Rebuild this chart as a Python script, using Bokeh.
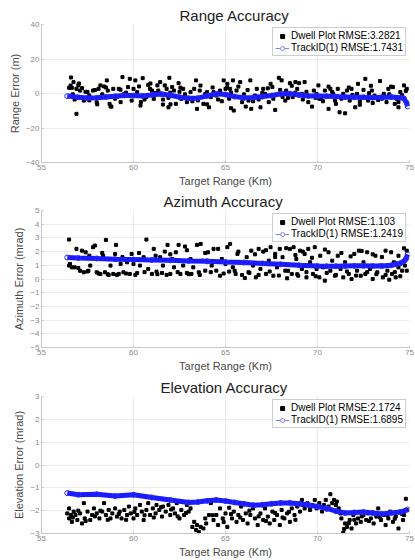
from bokeh.plotting import figure
from bokeh.models import Legend, LegendItem, FixedTicker, Range1d, ColumnDataSource
from bokeh.layouts import column
from bokeh.embed import file_html
from bokeh.resources import INLINE

FONT = "Liberation Sans"
x_ticks = [55, 60, 65, 70, 75]

# ---------------- Range panel ----------------
range_dwell_km = [56.6, 56.5, 56.65, 56.74, 56.9, 56.9, 57.0, 57.1, 57.2, 57.3, 57.5, 57.6, 57.8, 58.0,
                  58.1, 58.2, 58.4, 58.55, 58.6, 58.7, 58.8, 58.9, 59.2, 59.3, 59.4, 59.5, 59.7, 59.8,
                  59.9, 60.0, 60.1, 60.3, 60.4, 60.5, 60.7, 60.9, 61.0, 61.1, 61.3, 61.35, 61.45, 61.6,
                  61.7, 61.8, 61.9, 61.95, 62.1, 62.2, 62.3, 62.45, 62.6, 62.7, 62.9, 63.1, 63.3, 63.4,
                  63.45, 63.6, 63.8, 64.0, 64.1, 64.2, 64.35, 64.5, 64.7, 64.9, 65.0, 65.1, 65.25, 65.3,
                  65.4, 65.6, 65.8, 65.9, 66.1, 66.25, 66.35, 66.4, 66.6, 66.7, 66.9, 67.05, 67.15, 67.35,
                  67.45, 67.55, 67.7, 67.9, 67.97, 68.05, 68.25, 68.3, 68.5, 68.65, 68.8, 68.9, 69.0,
                  69.15, 69.3, 69.5, 69.7, 69.8, 69.95, 70.05, 70.2, 70.4, 70.6, 70.7, 70.85, 70.95,
                  71.1, 71.2, 71.4, 71.5, 71.6, 71.75, 71.85, 72.05, 72.15, 72.2, 72.4, 72.5, 72.6,
                  72.75, 72.95, 73.1, 73.4, 73.6, 73.75, 73.85, 74.0, 74.1, 74.2, 74.4, 74.5, 74.7,
                  74.75, 74.85,
                  56.58, 57.03, 57.39, 58.03, 58.75, 59.29, 60.38, 60.92, 62.01, 62.55, 63.64, 64.0,
                  65.09, 65.45, 56.8, 57.6, 58.3, 59.0, 59.6, 60.6, 61.2, 61.9, 62.8, 63.2, 63.9, 64.6,
                  65.3, 66.0, 66.5, 67.0, 67.6, 68.4, 69.2, 69.9, 70.3, 70.8, 71.3, 71.9, 72.3, 72.8,
                  73.3, 73.9, 74.3, 74.6, 57.9, 60.2, 62.0, 64.8, 68.8, 73.0,
                  56.7, 57.4, 58.5, 59.1, 60.8, 61.6, 62.5, 63.5, 64.3, 65.2, 65.7, 66.2, 66.8, 67.3,
                  68.1, 68.6, 69.4, 70.1, 70.6, 71.0, 71.7, 72.3, 72.9, 73.5, 74.0, 74.4, 74.8]
range_dwell_err = [9.3, 3.3, 3.3, 6.6, 2.7, -11.8, 4.7, 1.7, 3.1, -4.1, 0.8, -1.2, 1.7, -5.0,
                   2.7, 4.7, 4.1, 7.6, 1.7, -6.0, -7.6, 2.7, 2.7, -5.0, 9.5, -0.2, 3.7, 8.5,
                   -4.1, 2.7, 7.6, 4.1, -5.0, 8.9, -2.1, 2.7, 1.7, -3.1, 4.7, 1.7, 6.6, -6.4,
                   4.7, 2.7, -8.0, 9.1, 3.7, 1.7, -6.0, 6.0, -3.1, 2.7, -5.0, 0.8, 2.7, 7.6,
                   -8.9, 1.7, -6.0, 0.8, -8.0, -2.1, 0.8, -1.2, 1.7, 7.6, 2.7, 5.6, 2.7, -8.5,
                   7.6, 1.7, 6.6, -5.0, -7.6, -4.1, 7.6, -8.9, -1.2, 2.7, -8.0, 2.7, -0.2, -5.0,
                   5.6, 3.7, -9.5, 9.1, 2.1, 7.6, -4.1, 1.7, 6.0, -2.1, 6.6, 2.7, 6.0,
                   -0.2, 6.6, -5.0, -7.6, 1.7, -0.2, 4.7, -3.1, 1.7, -8.9, 2.7, -0.2, -4.1,
                   2.7, -10.9, -0.2, -11.5, 1.7, -4.1, 2.7, -8.0, -0.2, 5.6, -2.1, 2.1, 8.5,
                   -4.1, 1.7, -1.2, 7.2, -0.2, -5.0, 2.7, -2.1, 3.7, -6.0, -8.0, 0.8, 4.7,
                   -4.1, 2.7,
                   4.6, 5.8, 1.0, -6.3, -7.5, 2.2, -7.0, 5.8, -6.3, 3.4, 4.6, -6.3,
                   3.4, -9.9, -3.5, -4.0, -0.5, -3.0, 0.5, -3.5, 0.3, -2.5, -0.5, -4.5, -0.3, -3.5,
                   0.5, -0.5, -4.5, 0.3, -3.0, -2.5, -3.5, -2.5, -4.5, 0.8, -3.0, -0.8, -4.5, 0.2,
                   -3.8, -0.5, -3.0, -1.0, 2.0, 0.8, 0.5, -4.5, 0.5, -5.5,
                   -0.5, -2.5, 3.5, -2.0, 5.0, -3.5, 1.0, -4.0, 3.5, -3.0, 4.0, 2.0, -3.5, 3.0,
                   -2.0, 4.5, 1.0, -3.0, 4.0, -6.0, 3.5, -6.5, 4.5, -3.0, 4.0, -5.0, 1.5]
range_track_km = [56.4, 57.0, 57.5, 58.0, 58.5, 59.0, 59.5, 60.0, 60.5, 61.0, 61.5, 62.0, 62.5, 63.0,
                  63.5, 64.0, 64.5, 65.0, 65.5, 66.0, 66.5, 67.0, 67.5, 68.0, 68.5, 69.0, 69.5, 70.0,
                  70.5, 71.0, 71.5, 72.0, 72.5, 73.0, 73.5, 74.0, 74.5, 74.7, 74.85, 74.9]
range_track_err = [-1.5, -2.2, -2.6, -2.5, -2.0, -1.6, -1.1, -1.2, -1.4, -0.8, -0.3, -1.0, -2.1, -2.8,
                   -2.7, -1.4, -0.2, -0.6, -1.8, -2.5, -2.3, -1.8, -1.2, -0.2, -0.1, -0.9, -1.4, -1.4,
                   -1.6, -1.8, -2.1, -2.2, -2.2, -2.4, -2.2, -2.0, -2.4, -2.9, -5.5, -7.5]
range_ticks = [-40, -20, 0, 20, 40]

# ---------------- Azimuth panel ----------------
az_dwell_km = [56.5, 56.5, 56.55, 56.65, 56.8, 56.9, 57.1, 57.2, 57.3, 57.4, 57.55, 57.65, 57.8, 57.9,
               58.0, 58.2, 58.35, 58.45, 58.5, 58.65, 58.75, 58.9, 59.0, 59.05, 59.2, 59.3, 59.45,
               59.65, 59.8, 59.9, 60.0, 60.2, 60.35, 60.55, 60.7, 60.8, 61.0, 61.1, 61.25, 61.45,
               61.55, 61.6, 61.7, 61.85, 62.0, 62.1, 62.2, 62.3, 62.45, 62.55, 62.7, 62.8, 62.9,
               63.1, 63.15, 63.25, 63.45, 63.55, 63.65, 63.75, 63.9, 64.05, 64.25, 64.35, 64.5,
               64.7, 64.8, 65.0, 65.1, 65.2, 65.25, 65.4, 65.55, 65.65, 65.8, 65.9, 66.05, 66.15,
               66.25, 66.4, 66.5, 66.65, 66.8, 66.9, 67.05, 67.2, 67.35, 67.45, 67.6, 67.7, 67.8,
               67.95, 68.1, 68.25, 68.35, 68.5, 68.6, 68.7, 68.85, 68.95, 69.05, 69.15, 69.3, 69.4,
               69.5, 69.6, 69.75, 69.85, 69.95, 70.1, 70.15, 70.3, 70.4, 70.6, 70.7, 70.8, 70.95,
               71.1, 71.25, 71.4, 71.5, 71.7, 71.85, 72.0, 72.15, 72.25, 72.35, 72.5, 72.6, 72.7,
               72.85, 73.0, 73.15, 73.25, 73.4, 73.55, 73.7, 73.8, 73.9, 74.05, 74.15, 74.25, 74.4,
               74.6, 74.7, 74.75, 74.85, 74.85,
               66.3, 66.8, 67.4, 67.9, 68.4, 68.9, 69.4, 69.9, 70.5, 71.0, 71.6, 72.1, 72.7, 73.2,
               73.7, 74.2, 74.5, 66.6, 67.2, 67.7, 68.3, 68.8, 69.2, 69.7, 70.4, 71.3, 71.8, 72.4,
               73.0, 73.5, 74.0, 74.4,
               57.0, 57.5, 58.1, 58.6, 59.1, 59.6, 60.1, 60.6, 61.3, 61.8, 62.4, 63.0, 63.6, 64.2,
               64.9, 65.5, 57.6, 58.3, 59.4, 60.3, 61.2, 62.0, 62.9, 63.9, 64.6, 65.7]
az_dwell_err = [2.88, 0.98, 1.1, 0.85, 0.85, 2.2, 0.6, 2.07, 0.49, 1.95, 0.6, 0.98, 2.32, 2.44,
                0.49, 0.37, 1.7, 0.49, 2.85, 0.29, 0.98, 0.37, 1.83, 2.49, 0.37, 1.1, 0.49,
                1.22, 0.37, 1.83, 1.1, 0.44, 0.98, 1.59, 2.88, 0.73, 0.37, 2.2, 0.54, 1.59,
                0.44, 0.98, 2.0, 2.49, 0.37, 1.46, 0.85, 1.95, 2.49, 0.37, 0.98, 2.37, 0.44,
                1.46, 0.37, 0.85, 2.49, 0.49, 2.56, 1.34, 0.61, 1.95, 0.98, 2.2, 0.61,
                0.24, 1.46, 1.1, 2.32, 0.54, 2.56, 0.85, 0.37, 1.83, 1.22, 0.29, 0.07, 1.59,
                0.49, 2.07, 0.98, 0.12, 2.2, 0.73, 2.0, 0.37, 1.34, 2.32, 0.24, 1.83, 0.85,
                2.2, 1.59, 0.61, 0.05, 2.2, 0.37, 2.32, 1.46, 0.24, 2.07, 0.73, 1.83, 0.12,
                2.2, 1.22, 0.37, 2.32, 0.73, 0.12, 1.7, 0.85, -0.12, 1.95, 0.61, 1.34, 0.24,
                1.7, 0.73, 0.12, 1.22, 0.37, 0.0, 1.83, 0.61, 2.07, 0.24, 1.22, 0.37, 1.95,
                0.73, 0.0, 1.7, 0.49, 0.98, 0.12, 2.07, 0.61, -0.05, 0.37, 1.22, 0.12, 0.85,
                0.61, 2.24, 0.98, 2.07, 0.61,
                0.45, 0.3, 0.55, 0.25, 0.6, 0.35, 0.5, 0.2, 0.45, 0.3, 0.55, 0.25, 0.5, 0.35,
                0.3, 0.5, 0.2, 1.8, 2.1, 1.6, 2.25, 1.75, 2.0, 1.55, 2.15, 1.9, 1.65, 2.05,
                1.8, 1.6, 1.95, 1.7,
                0.8, 0.55, 0.4, 0.35, 0.3, 0.4, 0.3, 0.5, 0.35, 0.3, 0.5, 0.35, 0.3, 0.5,
                0.4, 0.6, 1.7, 1.9, 1.6, 1.9, 1.7, 1.8, 2.1, 1.9, 2.2, 2.0]
az_track_km = [56.4, 57.0, 58.0, 59.0, 60.0, 61.0, 62.0, 63.0, 64.0, 65.0, 66.0, 67.0, 68.0, 69.0,
               70.0, 70.5, 71.0, 71.5, 72.0, 72.5, 73.0, 73.5, 74.0, 74.3, 74.5, 74.7, 74.8, 74.9]
az_track_err = [1.57, 1.53, 1.5, 1.45, 1.42, 1.39, 1.36, 1.32, 1.29, 1.24, 1.2, 1.14, 1.07, 1.0,
                0.95, 0.93, 0.93, 0.95, 0.96, 0.96, 0.95, 0.95, 1.0, 1.08, 1.15, 1.3, 1.45, 1.8]
az_ticks = [-5, -4, -3, -2, -1, 0, 1, 2, 3, 4, 5]

# ---------------- Elevation panel ----------------
el_dwell_km = [56.4, 56.5, 56.5, 56.6, 56.65, 56.75, 56.85, 56.95, 57.1, 57.2, 57.3, 57.35, 57.5, 57.65,
               57.75, 57.85, 58.0, 58.15, 58.3, 58.4, 58.5, 58.65, 58.75, 58.85, 59.0, 59.1, 59.25,
               59.35, 59.5, 59.65, 59.75, 59.85, 60.0, 60.1, 60.2, 60.35, 60.45, 60.55, 60.7, 60.8,
               60.9, 61.05, 61.2, 61.25, 61.4, 61.55, 61.6, 61.75, 61.9, 62.0, 62.15, 62.25, 62.35,
               62.5, 62.6, 62.75, 62.9, 63.0, 63.1, 63.2, 63.3, 63.4, 63.45, 63.55, 63.65, 63.8,
               63.9, 63.95, 64.1, 64.2, 64.35, 64.5, 64.6, 64.7, 64.85, 65.0, 65.1, 65.2, 65.35,
               65.45, 65.6, 65.7, 65.85, 65.95, 66.1, 66.2, 66.35, 66.5, 66.6, 66.75, 66.9, 67.05,
               67.15, 67.3, 67.4, 67.55, 67.65, 67.8, 67.95, 68.05, 68.2, 68.35, 68.5, 68.6, 68.75,
               68.9, 69.05, 69.15, 69.3, 69.45, 69.6, 69.7, 69.85, 69.95, 70.1, 70.25, 70.35, 70.45,
               70.6, 70.7, 70.8, 70.9, 71.0, 71.15, 71.25, 71.3, 71.4, 71.5, 71.6, 71.75, 71.85,
               71.95, 72.1, 72.2, 72.35, 72.5, 72.65, 72.75, 72.9, 73.05, 73.2, 73.3, 73.45, 73.6,
               73.7, 73.85, 73.95, 74.1, 74.25, 74.4, 74.5, 74.65, 74.7, 74.8, 74.85,
               56.7, 57.0, 57.4, 57.9, 58.2, 58.6, 59.2, 59.6, 60.05, 60.6, 61.1, 61.5, 62.05, 62.4,
               62.85, 64.3, 64.9, 65.3, 65.8, 66.3, 66.8, 67.2, 67.7, 68.1, 68.45, 68.8, 69.2, 69.6,
               70.0, 70.5, 71.05, 71.45, 71.7, 72.0, 72.4, 72.8, 73.4, 73.8, 74.2, 74.6]
el_dwell_err = [-2.12, -1.9, -2.34, -2.19, -2.49, -2.04, -2.19, -2.41, -2.12, -2.56, -1.67, -2.34, -2.04, -2.41,
                -2.19, -1.9, -2.12, -2.34, -2.04, -1.67, -2.19, -1.97, -2.34, -2.12, -1.9, -2.26, -2.04,
                -2.34, -1.97, -2.19, -1.82, -2.12, -2.34, -1.9, -2.19, -1.75, -2.04, -2.41, -1.97, -1.67,
                -2.19, -1.9, -2.12, -1.75, -1.97, -2.26, -1.82, -2.04, -1.75, -2.19, -1.9, -2.12, -1.67,
                -2.34, -1.97, -2.19, -1.75, -2.04, -1.9, -2.71, -2.49, -2.85, -2.63, -2.93, -2.71, -2.78,
                -2.34, -2.56, -2.19, -1.67, -2.41, -2.19, -2.63, -1.9, -2.34, -2.12, -2.71, -1.87, -2.34,
                -2.04, -2.49, -2.19, -1.82, -2.41, -2.12, -2.56, -2.19, -1.9, -2.34, -2.63, -2.12, -2.41,
                -1.9, -2.26, -2.56, -2.04, -2.41, -2.19, -2.63, -1.97, -2.34, -2.12, -2.49, -1.9, -2.19,
                -1.82, -2.04, -1.53, -1.9, -1.67, -1.97, -1.75, -1.53, -1.9, -1.67, -2.04, -1.75, -1.53,
                -1.82, -1.28, -1.67, -1.53, -1.75, -1.9, -2.12, -2.34, -2.97, -2.56, -2.71, -2.41, -2.78,
                -2.19, -2.56, -2.34, -2.49, -2.19, -2.41, -2.12, -2.34, -2.56, -2.26, -1.9, -2.41, -2.19,
                -2.63, -2.34, -2.04, -2.49, -2.26, -2.78, -2.04, -2.41, -2.19, -1.48, -1.97,
                -2.3, -2.0, -2.45, -2.25, -2.0, -2.4, -2.15, -2.4, -2.05, -2.2, -2.3, -1.85, -1.95, -2.25,
                -2.1, -2.2, -2.5, -2.15, -2.3, -2.0, -2.25, -2.45, -2.1, -2.3, -2.05, -2.4, -1.75, -1.85,
                -1.8, -1.95, -1.6, -2.8, -2.55, -2.4, -2.25, -2.45, -2.3, -2.2, -2.35, -2.15]
el_track_km = [56.4, 57.0, 58.0, 59.0, 60.0, 61.0, 62.0, 63.0, 63.5, 64.0, 64.5, 65.0, 65.5, 66.0,
               66.5, 67.0, 67.5, 68.0, 68.5, 69.0, 69.5, 70.0, 70.5, 71.0, 71.5, 72.0, 72.5, 73.0,
               73.5, 74.0, 74.5, 74.9]
el_track_err = [-1.23, -1.3, -1.28, -1.36, -1.3, -1.42, -1.53, -1.64, -1.62, -1.57, -1.53, -1.58, -1.64, -1.7,
                -1.76, -1.74, -1.7, -1.66, -1.66, -1.7, -1.75, -1.82, -1.9, -2.02, -2.1, -2.08, -2.06, -2.1,
                -2.14, -2.1, -2.06, -1.95]
el_ticks = [-3, -2, -1, 0, 1, 2, 3]


def make_panel(title, title_offset, ylabel, yr, yticks, dx, dy, tx, ty, lab1, lab2, height, top):
    p = figure(width=415, height=height, output_backend="svg", toolbar_location=None,
               x_range=Range1d(55, 75), y_range=Range1d(*yr),
               min_border_left=41, min_border_right=6, min_border_top=top, min_border_bottom=27)
    p.title.text = title
    p.title.align = "left"
    p.title.offset = title_offset
    p.title.text_font = FONT
    p.title.text_font_size = "15px"
    p.title.text_font_style = "normal"
    p.title.text_color = "#222222"
    p.title.standoff = 1
    p.outline_line_color = None

    p.xaxis.ticker = FixedTicker(ticks=x_ticks)
    p.yaxis.ticker = FixedTicker(ticks=yticks)
    p.xaxis.axis_label = "Target Range (Km)"
    p.yaxis.axis_label = ylabel
    for ax in (p.xaxis[0], p.yaxis[0]):
        ax.axis_line_color = "#c8c8c8"
        ax.major_tick_line_color = "#c8c8c8"
        ax.major_tick_in = 2
        ax.major_tick_out = 0
        ax.minor_tick_line_color = None
        ax.major_label_text_font = FONT
        ax.major_label_text_font_size = "8px"
        ax.major_label_text_color = "#8a8a8a"
        ax.axis_label_text_font = FONT
        ax.axis_label_text_font_size = "11px"
        ax.axis_label_text_font_style = "normal"
        ax.axis_label_text_color = "#4a4a4a"
        ax.axis_label_standoff = 2
        ax.major_label_standoff = 2
    p.xgrid.grid_line_color = "#ececec"
    p.ygrid.grid_line_color = "#ececec"

    r_dwell = p.scatter(dx, dy, marker="square", size=3, fill_color="black", line_color="black")
    p.line(tx, ty, line_color="#1a1aff", line_width=5)
    p.scatter(tx, ty, marker="circle", size=5, fill_color=None, line_color="#2a2aff", line_width=1)

    # legend glyph stand-ins (drawn outside the visible range)
    src = ColumnDataSource(dict(x=[-100, -99], y=[-100, -100]))
    r_l = p.line("x", "y", source=src, line_color="#8080ff", line_width=1)
    r_c = p.scatter("x", "y", source=src, marker="circle", size=5, fill_color="white",
                    line_color="#8080ff")
    legend = Legend(items=[LegendItem(label=lab1, renderers=[r_dwell]),
                           LegendItem(label=lab2, renderers=[r_l, r_c])],
                    location="top_right", margin=3, padding=2, spacing=1,
                    label_text_font=FONT, label_text_font_size="10px", label_text_color="black",
                    label_height=10, glyph_height=10, glyph_width=14, label_standoff=2,
                    border_line_color="#9a9a9a", border_line_width=1, background_fill_alpha=1)
    p.add_layout(legend, "center")
    return p


p1 = make_panel("Range Accuracy", 138, "Range Error (m)", (-40, 40), range_ticks,
                range_dwell_km, range_dwell_err, range_track_km, range_track_err,
                "Dwell Plot RMSE:3.2821", "TrackID(1) RMSE:1.7431", 189, 24)
p2 = make_panel("Azimuth Accuracy", 122, "Azimuth Error (mrad)", (-5, 5), az_ticks,
                az_dwell_km, az_dwell_err, az_track_km, az_track_err,
                "Dwell Plot RMSE:1.103", "TrackID(1) RMSE:1.2419", 185, 21)
p3 = make_panel("Elevation Accuracy", 119, "Elevation Error (mrad)", (-3, 3), el_ticks,
                el_dwell_km, el_dwell_err, el_track_km, el_track_err,
                "Dwell Plot RMSE:2.1724", "TrackID(1) RMSE:1.6895", 186, 22)

layout = column(p1, p2, p3, spacing=0)
open("out.html", "w").write(file_html(layout, INLINE))
